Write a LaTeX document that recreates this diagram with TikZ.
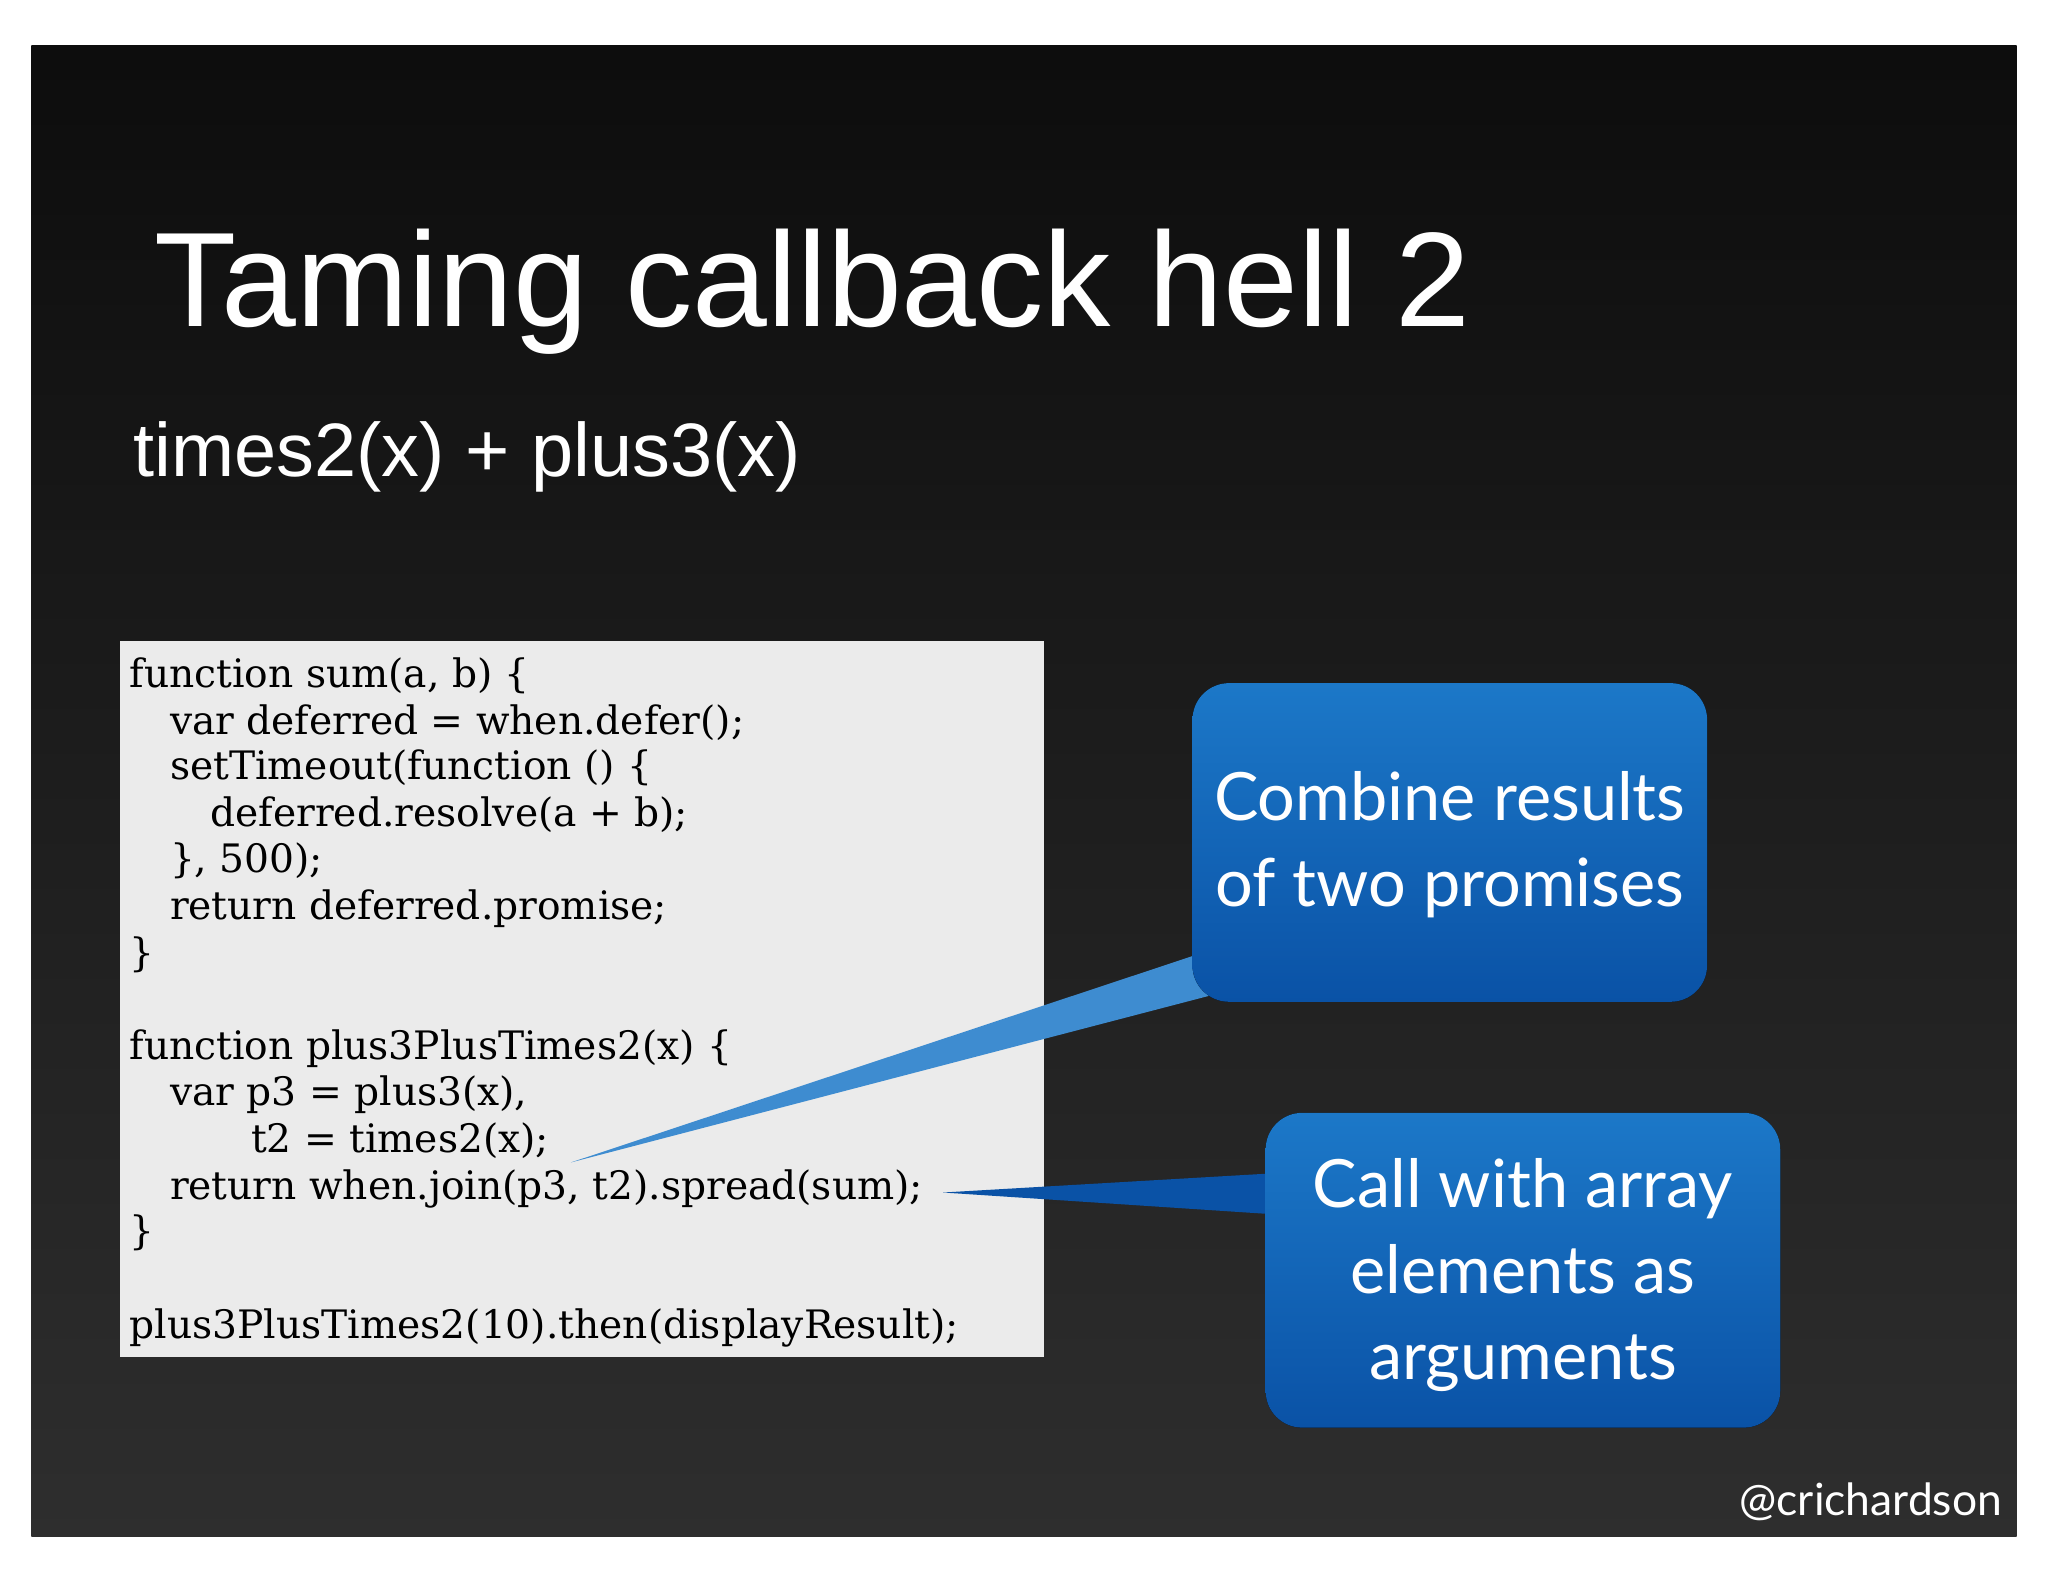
\documentclass[tikz,border=0pt]{standalone}
\usepackage{fontspec}
\setmainfont{Liberation Sans}
\newfontfamily\codefont{DejaVu Serif}
\newfontfamily\gill{Lato}
\definecolor{cbtop}{HTML}{1C78C8}
\definecolor{cbbot}{HTML}{0A52A6}
\begin{document}
\begin{tikzpicture}[x=1pt,y=-1pt,
  callout/.style={draw=none,top color=cbtop,bottom color=cbbot,rounded corners=28pt},
  calltext/.style={text=white,font=\gill\fontsize{51}{66}\selectfont,align=center},
  codeline/.style={anchor=base west,text=black,font=\codefont\fontsize{30}{35}\selectfont,inner sep=0}]
\useasboundingbox (0,0) rectangle (1568,1211);
\fill[white] (0,0) rectangle (1568,1211);
\shade[top color=black!95,bottom color=black!82] (24,35) rectangle (1544,1176);
\node[anchor=base west,text=white,font=\fontsize{103}{112}\selectfont,inner sep=0] (title) at (118,250) {Taming callback hell 2};
\node[anchor=base west,text=white,font=\fontsize{58}{70}\selectfont,inner sep=0] (sub) at (102,365) {times2(x) + plus3(x)};
\fill[black!8] (92,491) rectangle (799,1039);
\node[codeline] (c1) at (99,526) {function sum(a, b) \{};
\node[codeline] (c2) at (130,562) {var deferred = when.defer();};
\node[codeline] (c3) at (130,597) {setTimeout(function () \{};
\node[codeline] (c4) at (161,633) {deferred.resolve(a + b);};
\node[codeline] (c5) at (130,668) {\}, 500);};
\node[codeline] (c6) at (130,704) {return deferred.promise;};
\node[codeline] (c7) at (99,740) {\}};
\node[codeline] (c8) at (99,811) {function plus3PlusTimes2(x) \{};
\node[codeline] (c9) at (130,846) {var p3 = plus3(x),};
\node[codeline] (c10) at (192,882) {t2 = times2(x);};
\node[codeline] (c11) at (130,918) {return when.join(p3, t2).spread(sum);};
\node[codeline] (c12) at (99,953) {\}};
\node[codeline] (c13) at (99,1025) {plus3PlusTimes2(10).then(displayResult);};
\coordinate (tip1) at (437,890);
\coordinate (tip2) at (722,913);
\fill[cbtop!85!white] (tip1) -- (925,728) -- (935,760) -- cycle;
\fill[cbbot] (tip2) -- (980,898) -- (980,930) -- cycle;
\fill[callout] (913,523) rectangle (1307,767);
\fill[callout] (969,852) rectangle (1363,1093);
\node[calltext] (b1) at (1110,647) {Combine results\\of two promises};
\node[calltext] (b2) at (1166,976) {Call with array\\elements as\\arguments};
\node[anchor=base east,text=white,font=\gill\fontsize{34}{40}\selectfont,inner sep=0] (handle) at (1533,1160) {@crichardson};
\end{tikzpicture}
\end{document}
